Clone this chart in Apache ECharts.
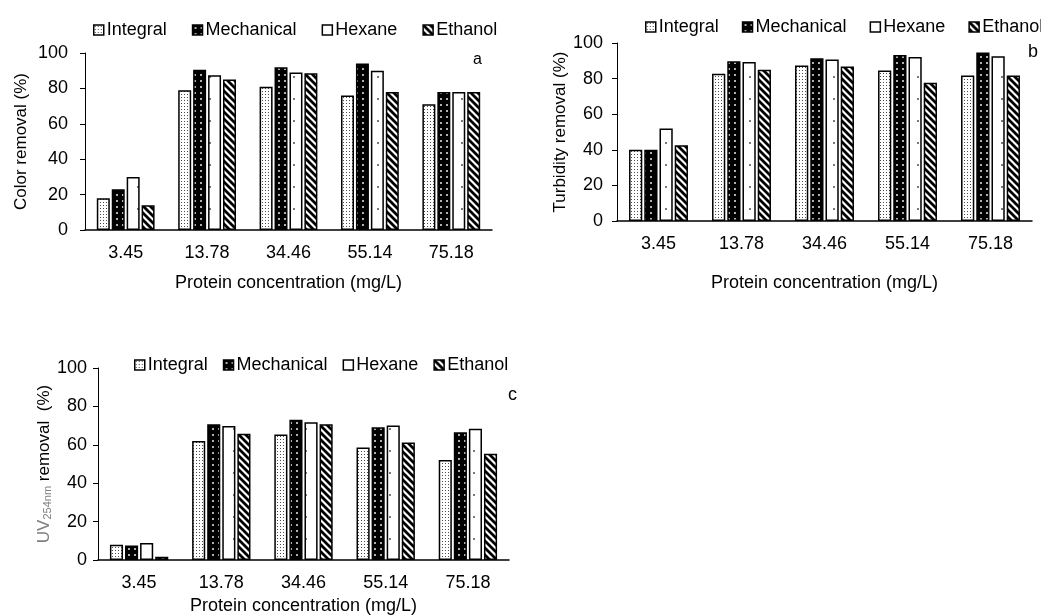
<!DOCTYPE html>
<html>
<head>
<meta charset="utf-8">
<script src="https://cdn.jsdelivr.net/npm/echarts@6/dist/echarts.min.js"></script>
<style>
html,body{margin:0;padding:0;background:#fff;}
#chart{width:1041px;height:616px;}
</style>
</head>
<body>
<div id="chart"></div>
<script>
// ---------- data ----------
var categories = ['3.45', '13.78', '34.46', '55.14', '75.18'];
var seriesNames = ['Integral', 'Mechanical', 'Hexane', 'Ethanol'];
var yTicks = [0, 20, 40, 60, 80, 100];

// panel a: colour removal (%)
var colorIntegral   = [18, 79, 81, 76, 71];
var colorMechanical = [23, 90.5, 92, 94, 78];
var colorHexane     = [30, 87.5, 89, 90, 78];
var colorEthanol    = [14, 85, 88.5, 78, 78];

// panel b: turbidity removal (%)
var turbIntegral   = [40, 82.7, 87.4, 84.6, 81.8];
var turbMechanical = [40, 89.7, 91.4, 93.2, 94.7];
var turbHexane     = [52, 89.3, 90.8, 92.1, 92.5];
var turbEthanol    = [42.5, 85, 86.8, 77.6, 81.8];

// panel c: UV254nm removal (%)
var uvIntegral   = [8, 62, 65.4, 58.6, 52.1];
var uvMechanical = [7.5, 70.7, 73.1, 69.2, 66.6];
var uvHexane     = [8.9, 69.8, 71.7, 70, 68.3];
var uvEthanol    = [1.7, 65.8, 70.7, 61.2, 55.4];

// ---------- patterns ----------
function tile(w, h, bg, draw) {
  var c = document.createElement('canvas');
  c.width = w; c.height = h;
  var ctx = c.getContext('2d');
  ctx.fillStyle = bg; ctx.fillRect(0, 0, w, h);
  draw(ctx);
  return { image: c, repeat: 'repeat' };
}
var patIntegral = tile(3, 3, '#ffffff', function (ctx) {
  ctx.fillStyle = '#4a4a4a'; ctx.fillRect(1, 1, 1, 1);
});
var patMechanical = tile(6, 6, '#000000', function (ctx) {
  ctx.fillStyle = '#b0b0b0'; ctx.fillRect(2, 2, 2, 2);
});
var patHexane = tile(12, 22, '#ffffff', function (ctx) {
  ctx.fillStyle = '#777'; ctx.fillRect(5, 10, 2, 2);
});
var patEthanol = tile(7, 7, '#ffffff', function (ctx) {
  ctx.strokeStyle = '#000'; ctx.lineWidth = 2.8;
  ctx.beginPath();
  ctx.moveTo(-1, -1); ctx.lineTo(8, 8);
  ctx.moveTo(-8, -1); ctx.lineTo(1, 8);
  ctx.moveTo(6, -1); ctx.lineTo(15, 8);
  ctx.stroke();
});
var patterns = [patIntegral, patMechanical, patHexane, patEthanol];

// ---------- layout ----------
var FONT = "'Liberation Sans', Arial, sans-serif";
var panels = [
  { grid: { left: 85, right: 549, top: 53, bottom: 386 }, data: [colorIntegral, colorMechanical, colorHexane, colorEthanol],
    yName: 'Color removal (%)', yGap: 55, xGap: 44, yMargin: 17, legend: { left: 93, top: 21, itemGap: 25 } },
  { grid: { left: 617, right: 9, top: 43, bottom: 395 }, data: [turbIntegral, turbMechanical, turbHexane, turbEthanol],
    yName: 'Turbidity removal (%)', yGap: 46, xGap: 53, yMargin: 14, legend: { left: 645, top: 18, itemGap: 23 } },
  { grid: { left: 98, right: 532, top: 368, bottom: 52 }, data: [uvIntegral, uvMechanical, uvHexane, uvEthanol],
    yName: '{uv|UV}{sub|254nm}{rest| removal  (%)}', yGap: 45, xGap: 37, yMargin: 11, legend: { left: 134, top: 356, itemGap: 15 } }
];

var option = { animation: false, backgroundColor: '#fff', grid: [], xAxis: [], yAxis: [], series: [], legend: [], graphic: [] };

panels.forEach(function (p, i) {
  option.grid.push(Object.assign({ containLabel: false }, p.grid));
  option.xAxis.push({
    type: 'category', gridIndex: i, data: categories,
    axisLine: { lineStyle: { color: '#000', width: 1.5 } },
    axisTick: { show: false },
    axisLabel: { color: '#000', fontSize: 18, fontFamily: FONT, margin: 14 },
    name: 'Protein concentration (mg/L)', nameLocation: 'middle', nameGap: p.xGap,
    nameTextStyle: { color: '#000', fontSize: 18, fontFamily: FONT }
  });
  var yAxis = {
    type: 'value', gridIndex: i, min: yTicks[0], max: yTicks[yTicks.length - 1], interval: yTicks[1] - yTicks[0],
    axisLine: { show: true, lineStyle: { color: '#000', width: 1 } },
    axisTick: { show: true, length: 5, lineStyle: { color: '#000' } },
    splitLine: { show: false },
    axisLabel: { color: '#000', fontSize: 18, fontFamily: FONT, margin: p.yMargin },
    name: p.yName, nameLocation: 'middle', nameGap: p.yGap,
    nameTextStyle: { color: '#000', fontSize: 17, fontFamily: FONT }
  };
  if (i === 2) {
    yAxis.nameTextStyle.rich = {
      uv: { color: '#808080', fontSize: 17, fontFamily: FONT, lineHeight: 18 },
      sub: { color: '#808080', fontSize: 11, fontFamily: FONT, verticalAlign: 'bottom', lineHeight: 11 },
      rest: { color: '#000', fontSize: 17, fontFamily: FONT, lineHeight: 18 }
    };
  }
  option.yAxis.push(yAxis);
  seriesNames.forEach(function (nm, k) {
    option.series.push({
      type: 'bar', name: nm, xAxisIndex: i, yAxisIndex: i, data: p.data[k],
      barGap: '15%', barCategoryGap: '29%',
      itemStyle: { color: patterns[k], borderColor: '#000', borderWidth: 1.5 }
    });
  });
  option.legend.push({
    data: seriesNames, left: p.legend.left, top: p.legend.top, itemGap: p.legend.itemGap,
    width: 480, padding: 0, orient: 'horizontal',
    icon: 'rect', itemWidth: 10, itemHeight: 10, selectedMode: false,
    itemStyle: { borderColor: '#000', borderWidth: 1.5 },
    textStyle: { color: '#000', fontSize: 18, fontFamily: FONT, padding: [0, 0, 0, -2] }
  });
});

option.graphic = [
  { type: 'text', left: 473, top: 52, style: { text: 'a', fontSize: 16, fontFamily: FONT, fill: '#000' } },
  { type: 'text', left: 1028, top: 43, style: { text: 'b', fontSize: 18, fontFamily: FONT, fill: '#000' } },
  { type: 'text', left: 508, top: 386, style: { text: 'c', fontSize: 18, fontFamily: FONT, fill: '#000' } }
];

var chart = echarts.init(document.getElementById('chart'), null, { renderer: 'canvas' });
chart.setOption(option);
</script>
</body>
</html>
